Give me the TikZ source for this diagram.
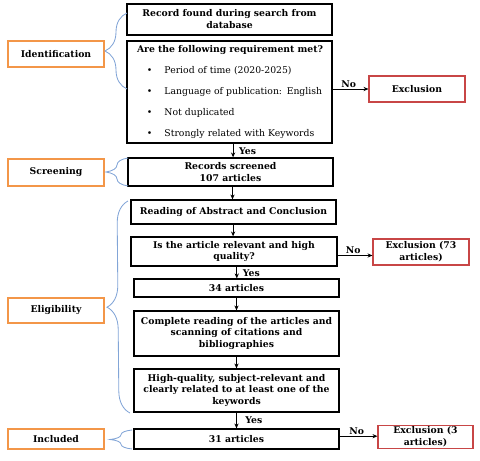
\documentclass[tikz,border=0pt]{standalone}
\usepackage{fontspec}
\setmainfont{DejaVu Serif}
\usetikzlibrary{positioning}
\usetikzlibrary{arrows.meta}
\usetikzlibrary{decorations.pathreplacing}
\definecolor{stageorange}{RGB}{243,150,72}
\definecolor{exclred}{RGB}{200,70,70}
\definecolor{braceblue}{RGB}{130,165,215}

\begin{document}
\begin{tikzpicture}[
  stepbox/.style={draw, line width=0.9pt, align=center, inner sep=2pt, font=\fontsize{6.6}{8.5}\selectfont\bfseries},
  stagebox/.style={draw=stageorange, line width=1.1pt, minimum width=2.4cm, align=center, inner sep=1pt, font=\fontsize{6.6}{8.5}\selectfont\bfseries},
  exclbox/.style={draw=exclred, line width=0.8pt, minimum width=2.4cm, align=center, inner sep=1pt, font=\fontsize{6.6}{8.5}\selectfont\bfseries},
  arr/.style={-{Stealth[length=3.5pt, width=3pt]}, line width=0.5pt},
  lbl/.style={inner sep=1pt, font=\fontsize{6.6}{8}\selectfont\bfseries},
  brc/.style={draw=braceblue, line width=0.6pt, decorate, decoration={brace, amplitude=0.55cm}}
]
\useasboundingbox (0,0) rectangle (12,-11.525);

% flow boxes
\node[stepbox, minimum width=5.125cm, minimum height=0.775cm] (rec) at (5.7375, -0.4875) {Record found during search from\\database};
\node[draw, line width=0.9pt, minimum height=2.55cm, text width=4.925cm, inner xsep=0.1cm, inner ysep=0pt, align=left, font=\fontsize{6.6}{15}\selectfont] (req) at (5.7375, -2.3) {\hspace*{0.15cm}\textbf{Are the following requirement met?}\\
\hspace*{0.4cm}\textbullet\hspace{0.3cm}Period of time (2020-2025)\\
\hspace*{0.4cm}\textbullet\hspace{0.3cm}Language of publication: English\\
\hspace*{0.4cm}\textbullet\hspace{0.3cm}Not duplicated\\
\hspace*{0.4cm}\textbullet\hspace{0.3cm}Strongly related with Keywords};
\node[stepbox, minimum width=5.125cm, minimum height=0.7cm] (scr) at (5.7625, -4.3) {Records screened\\107 articles};
\node[stepbox, minimum width=5.125cm, minimum height=0.6cm] (abs) at (5.8375, -5.3) {Reading of Abstract and Conclusion};
\node[stepbox, minimum width=5.15cm, minimum height=0.725cm] (rel) at (5.85, -6.2875) {Is the article relevant and high\\quality?};
\node[stepbox, minimum width=5.125cm, minimum height=0.45cm] (n34) at (5.9125, -7.2) {34 articles};
\node[stepbox, minimum width=5.125cm, minimum height=1.125cm] (full) at (5.9125, -8.3375) {Complete reading of the articles and\\scanning of citations and\\bibliographies};
\node[stepbox, minimum width=5.125cm, minimum height=1.075cm] (hq) at (5.9125, -9.7625) {High-quality, subject-relevant and\\clearly related to at least one of the\\keywords};
\node[stepbox, minimum width=5.125cm, minimum height=0.5cm] (n31) at (5.9125, -10.975) {31 articles};

% exclusions
\node[exclbox, minimum height=0.65cm] (ex1) at (10.425, -2.225) {Exclusion};
\node[exclbox, minimum height=0.65cm] (ex2) at (10.525, -6.3) {Exclusion (73\\articles)};
\node[exclbox, minimum width=2.375cm, minimum height=0.55cm] (ex3) at (10.6375, -10.925) {Exclusion (3\\articles)};

% stages
\node[stagebox, minimum height=0.65cm] (ident) at (1.4, -1.35) {Identification};
\node[stagebox, minimum height=0.675cm] (screen) at (1.4, -4.3125) {Screening};
\node[stagebox, minimum height=0.625cm] (elig) at (1.4, -7.7625) {Eligibility};
\node[stagebox, minimum height=0.5cm] (incl) at (1.4, -10.975) {Included};

% arrows
\draw[arr] ([xshift=0.09cm]req.south) -- ([xshift=0.09cm]req.south |- scr.north) node[lbl, right=3pt, pos=0.55] {Yes};
\draw[arr] ([xshift=0.05cm]scr.south) -- ([xshift=0.05cm]scr.south |- abs.north);
\draw[arr] ([xshift=-0.01cm]abs.south) -- ([xshift=-0.01cm]abs.south |- rel.north);
\draw[arr] ([xshift=0.07cm]rel.south) -- ([xshift=0.07cm]rel.south |- n34.north) node[lbl, right=3pt, pos=0.6] {Yes};
\draw[arr] (n34.south) -- (n34.south |- full.north);
\draw[arr] (full.south) -- (full.south |- hq.north);
\draw[arr] (hq.south) -- (hq.south |- n31.north) node[lbl, right=5pt, pos=0.5] {Yes};
\draw[arr] (req.east |- ex1.west) -- (ex1.west) node[lbl, above, pos=0.45] {No};
\draw[arr] ([yshift=-0.1cm]rel.east) -- ([yshift=-0.1cm]rel.east -| ex2.west) node[lbl, above, pos=0.45] {No};
\draw[arr] ([yshift=0.07cm]n31.east) -- ([yshift=0.07cm]n31.east -| ex3.west) node[lbl, above, pos=0.45] {No};

% braces
\draw[brc] (3.175, -2.225) -- (3.175, -0.325);
\draw[brc] (3.2, -4.65) -- (3.2, -3.95);
\draw[brc] (3.25, -10.325) -- (3.2, -5.025);
\draw[brc] (3.3, -11.225) -- (3.3, -10.75);
\end{tikzpicture}
\end{document}
